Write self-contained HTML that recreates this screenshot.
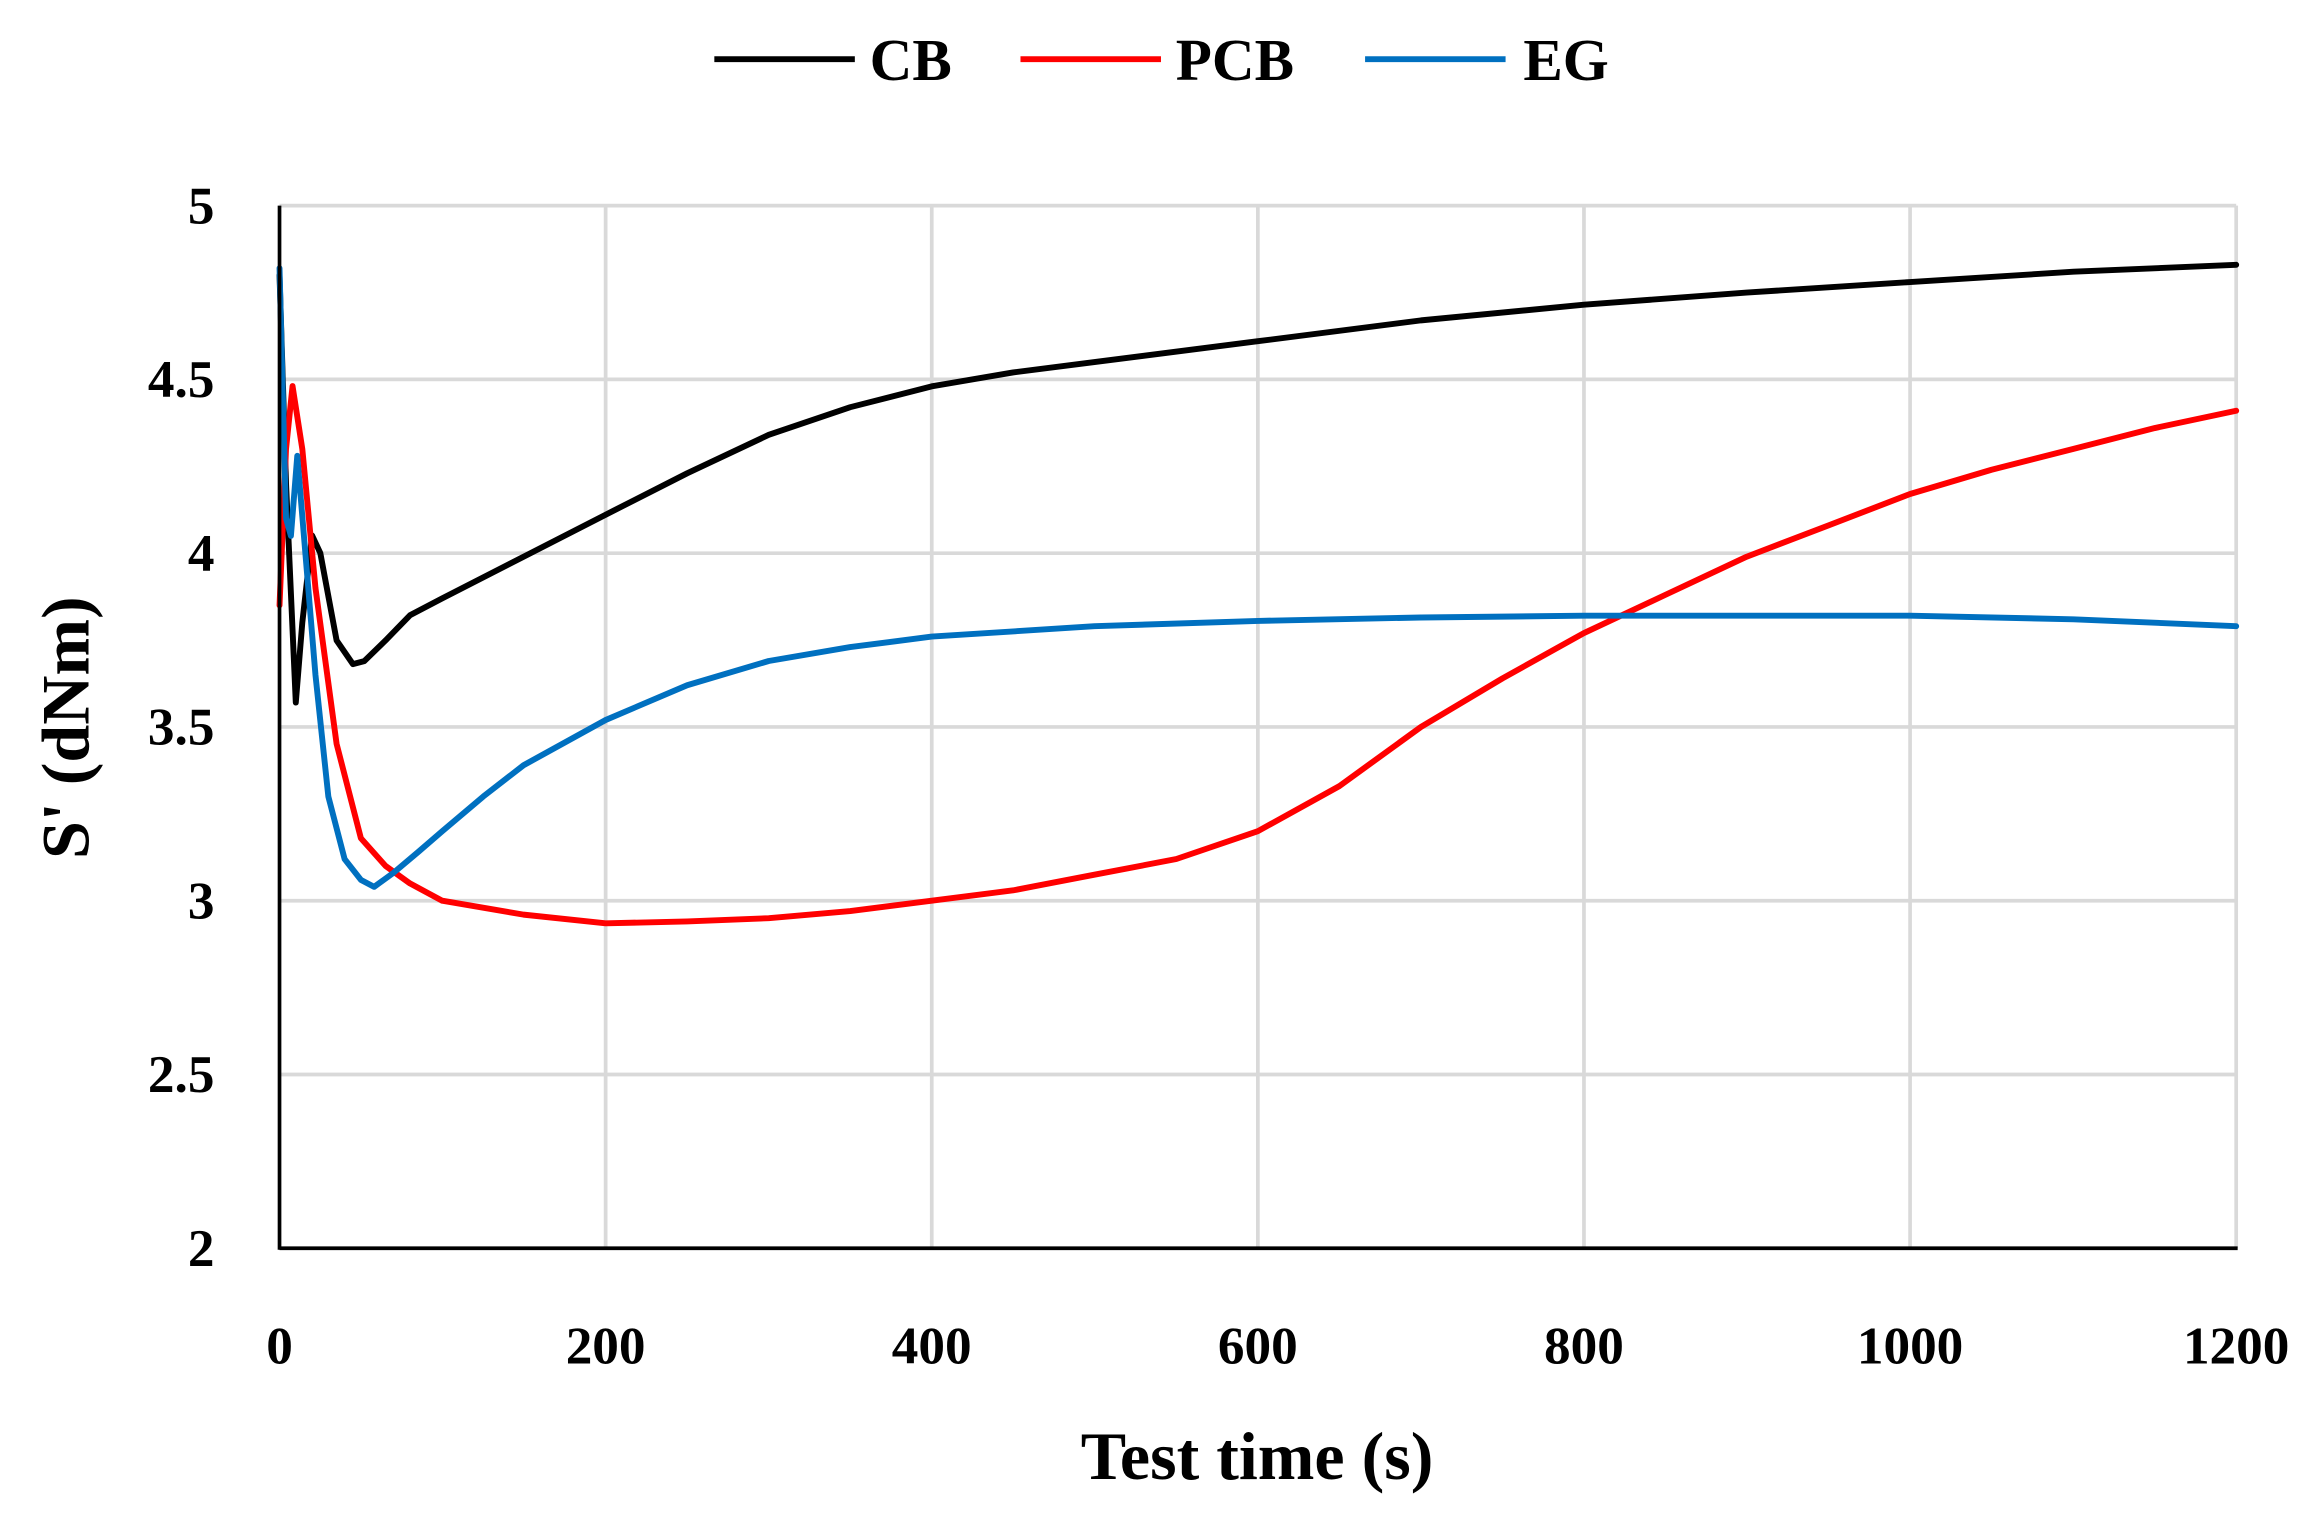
<!DOCTYPE html>
<html><head><meta charset="utf-8"><style>html,body{margin:0;padding:0;background:#fff}svg{display:block}</style></head>
<body>
<svg width="2319" height="1516" viewBox="0 0 1568 1025" xmlns="http://www.w3.org/2000/svg" font-family="'Liberation Serif',serif" font-weight="bold">
<rect width="1568" height="1025" fill="#fff"/>
<g stroke="#d9d9d9" stroke-width="2.5">
<line x1="409.5" y1="139" x2="409.5" y2="844"/>
<line x1="630" y1="139" x2="630" y2="844"/>
<line x1="850.5" y1="139" x2="850.5" y2="844"/>
<line x1="1071" y1="139" x2="1071" y2="844"/>
<line x1="1291.5" y1="139" x2="1291.5" y2="844"/>
<line x1="1512" y1="139" x2="1512" y2="844"/>
<line x1="189" y1="726.5" x2="1512" y2="726.5"/>
<line x1="189" y1="609" x2="1512" y2="609"/>
<line x1="189" y1="491.5" x2="1512" y2="491.5"/>
<line x1="189" y1="374" x2="1512" y2="374"/>
<line x1="189" y1="256.5" x2="1512" y2="256.5"/>
<line x1="189" y1="139" x2="1512" y2="139"/>
</g>
<g fill="none" stroke-width="4" stroke-linejoin="round" stroke-linecap="round">
<polyline stroke="#000" points="189,186 193.4,327 200,475 204.4,421 211,362 216.6,374 227.6,433 238.6,449 246.3,447 260.7,433 277.2,416 299,404.6 354,376.4 409.5,348 464.6,320 519.8,294 574.9,275.3 630,261.2 685,251.8 740,244.8 850.5,230.7 960.8,216.6 1071,206 1181,197.8 1291.5,190.7 1402,183.7 1512,179"/>
<polyline stroke="#ff0000" points="189,409.3 193.4,303.5 197.8,261 204.4,303.5 213.3,397.5 227.6,503 244,566.7 260.7,585.5 277.2,597.3 299,609 354,618.4 409.5,624.3 464.6,623 519.8,620.8 574.9,616 630,609 685,602 740,591.4 795.4,580.8 850.5,562 905.6,531.5 960.8,491.5 1016,458.6 1071,428 1126,402.2 1181,376.4 1236.4,355.2 1291.5,334 1346.6,317.6 1402,303.5 1457,289.4 1512,277.7"/>
<polyline stroke="#0070c0" points="189,181.3 193.4,350.5 196.7,362.3 201,308.2 205.5,362.3 213.3,456.3 222,538.5 233,580.8 244,594.9 253,599.6 266,590.2 282.7,576.1 299,562 326.8,538.5 354,517.4 409.5,486.8 464.6,463.3 519.8,446.9 574.9,437.5 630,430.4 740,423.4 850.5,419.8 960.8,417.5 1071,416.3 1181,416.3 1291.5,416.3 1402,418.7 1512,423.4"/>
</g>
<g stroke="#000" stroke-width="2.5">
<line x1="189" y1="139" x2="189" y2="845"/>
<line x1="189" y1="844" x2="1513" y2="844"/>
</g>
<g font-size="36" fill="#000" text-anchor="middle">
<text x="189" y="922">0</text>
<text x="409.5" y="922">200</text>
<text x="630" y="922">400</text>
<text x="850.5" y="922">600</text>
<text x="1071" y="922">800</text>
<text x="1291.5" y="922">1000</text>
<text x="1512" y="922">1200</text>
</g>
<g font-size="36" fill="#000" text-anchor="end">
<text x="145" y="856">2</text>
<text x="145" y="738.5">2.5</text>
<text x="145" y="621">3</text>
<text x="145" y="503.5">3.5</text>
<text x="145" y="386">4</text>
<text x="145" y="268.5">4.5</text>
<text x="145" y="151">5</text>
</g>
<text x="850" y="1000" font-size="46" text-anchor="middle">Test time (s)</text>
<text transform="translate(60,492) rotate(-90)" font-size="46" text-anchor="middle">S' (dNm)</text>
<g stroke-width="4">
<line x1="483" y1="40" x2="578" y2="40" stroke="#000"/>
<line x1="690" y1="40" x2="785" y2="40" stroke="#ff0000"/>
<line x1="923" y1="40" x2="1018" y2="40" stroke="#0070c0"/>
</g>
<g font-size="40">
<text x="588" y="54">CB</text>
<text x="795" y="54">PCB</text>
<text x="1030" y="54">EG</text>
</g>
</svg>
</body></html>
